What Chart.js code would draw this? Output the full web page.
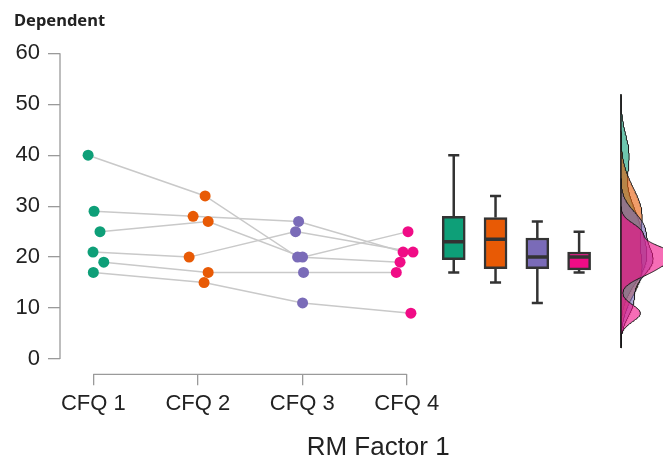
<!DOCTYPE html>
<html>
<head>
<meta charset="utf-8">
<title>RM Factor 1</title>
<script src="https://cdn.jsdelivr.net/npm/chart.js@4.4.1/dist/chart.umd.min.js"></script>
<style>
  html, body { margin: 0; padding: 0; background: #ffffff; overflow: hidden; }
  canvas { display: block; }
</style>
</head>
<body>
<canvas id="chart" width="663" height="462"></canvas>
<script>
// ---- data -------------------------------------------------------------
const categories = ['CFQ 1', 'CFQ 2', 'CFQ 3', 'CFQ 4'];
// index i is the same participant in every condition
const cfq1 = [40, 29, 25, 21, 19, 17];
const cfq2 = [32, 28, 27, 20, 17, 15];
const cfq3 = [20, 27, 20, 25, 17, 11];
const cfq4 = [19, 21, 25, 21, 17, 9];
// sideways jitter of each dot, in category widths
const jitter1 = [-0.050, 0.007, 0.064, -0.003, 0.100, 0.000];
const jitter2 = [0.070, -0.045, 0.099, -0.083, 0.099, 0.060];
const jitter3 = [-0.045, -0.035, 0.003, -0.064, 0.012, 0.003];
const jitter4 = [-0.064, -0.035, 0.012, 0.060, -0.100, 0.040];
const yTicks = [0, 10, 20, 30, 40, 50, 60];
const yTitle = 'Dependent';
const xTitle = 'RM Factor 1';

// ---- styling / layout ---------------------------------------------------
const conditions = [cfq1, cfq2, cfq3, cfq4];
const jitters = [jitter1, jitter2, jitter3, jitter4];
const colors = ['#0E9F78', '#E85A05', '#7A6BB8', '#F00C86'];
const boxX = [4.45, 4.85, 5.25, 5.65];      // box plot centres on the x scale
const boxHalf = 0.1;                          // half width of the median bar
const capHalf = 0.053;                        // half width of the whisker caps
const densityBase = 6.05;                     // baseline of the density strip
const densityScale = 4.6;                     // x units per unit of density
const tickFont = { family: '"Liberation Sans", Arial, sans-serif', size: 22 };

function rgba(hex, a) {
  const n = parseInt(hex.slice(1), 16);
  return `rgba(${(n >> 16) & 255},${(n >> 8) & 255},${n & 255},${a})`;
}

// ---- summary statistics -----------------------------------------------
function quantile(sorted, p) {
  const h = (sorted.length - 1) * p;
  const lo = Math.floor(h);
  const hi = Math.min(lo + 1, sorted.length - 1);
  return sorted[lo] + (h - lo) * (sorted[hi] - sorted[lo]);
}
function boxStats(values) {
  const s = [...values].sort((a, b) => a - b);
  const q1 = quantile(s, 0.25), med = quantile(s, 0.5), q3 = quantile(s, 0.75);
  const iqr = q3 - q1;
  const lo = Math.min(...s.filter(v => v >= q1 - 1.5 * iqr));
  const hi = Math.max(...s.filter(v => v <= q3 + 1.5 * iqr));
  return { s, q1, med, q3, iqr, lo, hi };
}
// Gaussian kernel density with the usual rule-of-thumb bandwidth
function density(st) {
  const n = st.s.length;
  const mean = st.s.reduce((a, b) => a + b, 0) / n;
  const sd = Math.sqrt(st.s.reduce((a, v) => a + (v - mean) ** 2, 0) / (n - 1));
  const bw = 0.9 * Math.min(sd, st.iqr / 1.34) * Math.pow(n, -0.2);
  const from = st.s[0] - 3 * bw, to = st.s[n - 1] + 3 * bw;
  const steps = 240, out = [];
  for (let k = 0; k <= steps; k++) {
    const v = from + (to - from) * k / steps;
    let d = 0;
    for (const xi of st.s) { const z = (v - xi) / bw; d += Math.exp(-0.5 * z * z); }
    out.push({ v, d: d / (n * bw * Math.sqrt(2 * Math.PI)) });
  }
  return out;
}
const stats = conditions.map(boxStats);
const dens = stats.map(density);

// ---- datasets -----------------------------------------------------------
const datasets = [];

// grey line for each participant across the four conditions
for (let i = 0; i < cfq1.length; i++) {
  datasets.push({
    type: 'line',
    data: conditions.map((c, j) => ({ x: j + 1 + jitters[j][i], y: c[i] })),
    borderColor: '#c9c9c9', borderWidth: 1.5,
    pointRadius: 0, fill: false, tension: 0, order: 40
  });
}

// dots per condition
conditions.forEach((c, j) => {
  datasets.push({
    type: 'scatter',
    data: c.map((v, i) => ({ x: j + 1 + jitters[j][i], y: v })),
    backgroundColor: colors[j], borderColor: colors[j], borderWidth: 0,
    pointRadius: 5.5, order: 1
  });
});

// whiskers, caps and medians
const whiskerData = [];
const capData = [];
const medianData = [];
stats.forEach((s, j) => {
  const x = boxX[j];
  whiskerData.push({ x, y: s.hi }, { x, y: s.q3 }, { x, y: null },
                   { x, y: s.q1 }, { x, y: s.lo }, { x, y: null });
  capData.push({ x: x - capHalf, y: s.hi }, { x: x + capHalf, y: s.hi }, { x, y: null },
               { x: x - capHalf, y: s.lo }, { x: x + capHalf, y: s.lo }, { x, y: null });
  medianData.push({ x: x - boxHalf, y: s.med }, { x: x + boxHalf, y: s.med }, { x, y: null });
});
datasets.push({ type: 'line', data: whiskerData, borderColor: '#333333', borderWidth: 2.5,
  pointRadius: 0, spanGaps: false, fill: false, order: 5 });
datasets.push({ type: 'line', data: capData, borderColor: '#333333', borderWidth: 2.5,
  pointRadius: 0, spanGaps: false, fill: false, order: 5 });

// boxes from first to third quartile
datasets.push({
  type: 'bar',
  data: stats.map((s, j) => ({ x: boxX[j], y: [s.q1, s.q3] })),
  backgroundColor: colors, borderColor: '#333333', borderWidth: 2.5,
  borderSkipped: false, barThickness: 23, order: 4
});
datasets.push({ type: 'line', data: medianData, borderColor: '#333333', borderWidth: 3.5,
  borderCapStyle: 'butt', pointRadius: 0, spanGaps: false, fill: false, order: 3 });

// half-violin densities, drawn sideways from a common baseline
dens.forEach((curve, j) => {
  datasets.push({
    type: 'line', indexAxis: 'y',
    data: curve.map(p => ({ x: densityBase + p.d * densityScale, y: p.v })),
    borderColor: '#1a1a1a', borderWidth: 1,
    backgroundColor: rgba(colors[j], 0.6),
    fill: { value: densityBase },
    pointRadius: 0, tension: 0, order: 20 - j
  });
});
// baseline of the density strip
const lowest = Math.min(...dens.map(c => c[0].v));
const highest = Math.max(...dens.map(c => c[c.length - 1].v));
datasets.push({ type: 'line', data: [{ x: densityBase, y: lowest }, { x: densityBase, y: highest }],
  borderColor: '#111111', borderWidth: 1.5, pointRadius: 0, fill: false, order: 15 });

// ---- axis lines and x title ------------------------------------------------
const axisLines = {
  id: 'axisLines',
  afterDraw(chart) {
    const { ctx, chartArea, scales: { x, y } } = chart;
    ctx.save();
    ctx.strokeStyle = '#9a9a9a';
    ctx.lineWidth = 1.3;
    ctx.beginPath();
    ctx.moveTo(chartArea.left, y.getPixelForValue(yTicks[0]));
    ctx.lineTo(chartArea.left, y.getPixelForValue(yTicks[yTicks.length - 1]));
    ctx.moveTo(x.getPixelForValue(1), chartArea.bottom);
    ctx.lineTo(x.getPixelForValue(categories.length), chartArea.bottom);
    ctx.stroke();
    ctx.fillStyle = '#222222';
    ctx.font = '26px "Liberation Sans", Arial, sans-serif';
    ctx.textAlign = 'center';
    ctx.textBaseline = 'alphabetic';
    ctx.fillText(xTitle, (x.getPixelForValue(1) + chartArea.right) / 2, chart.height - 7);
    ctx.restore();
  }
};

new Chart(document.getElementById('chart'), {
  data: { datasets },
  plugins: [axisLines],
  options: {
    responsive: false,
    animation: false,
    events: [],
    layout: { autoPadding: false, padding: { top: 0, left: 14, right: 0, bottom: 0 } },
    plugins: {
      legend: { display: false },
      tooltip: { enabled: false },
      title: {
        display: true, text: yTitle, align: 'start', color: '#222222',
        font: { family: '"Noto Sans", "Open Sans", sans-serif', size: 16.5, weight: 'bold', lineHeight: 1.2 },
        padding: { top: 11.4, bottom: 22.1 }
      }
    },
    scales: {
      x: {
        type: 'linear', min: 0.681, max: 6.453, offset: false,
        border: { display: false },
        grid: { offset: false, drawOnChartArea: false, drawTicks: true, tickLength: 11, color: '#9a9a9a', lineWidth: 1.3 },
        ticks: { font: tickFont, color: '#222222', padding: 5, maxRotation: 0,
                 callback: v => categories[v - 1] },
        afterBuildTicks: s => { s.ticks = categories.map((c, i) => ({ value: i + 1 })); },
        afterFit: s => { s.height = 87.7; }
      },
      y: {
        type: 'linear', min: -3, max: 60,
        border: { display: false },
        grid: { drawOnChartArea: false, drawTicks: true, tickLength: 12, color: '#9a9a9a', lineWidth: 1.3 },
        ticks: { font: tickFont, color: '#222222', padding: 8 },
        afterBuildTicks: s => { s.ticks = yTicks.map(v => ({ value: v })); },
        afterFit: s => { s.width = 46; }
      }
    }
  }
});
</script>
</body>
</html>
